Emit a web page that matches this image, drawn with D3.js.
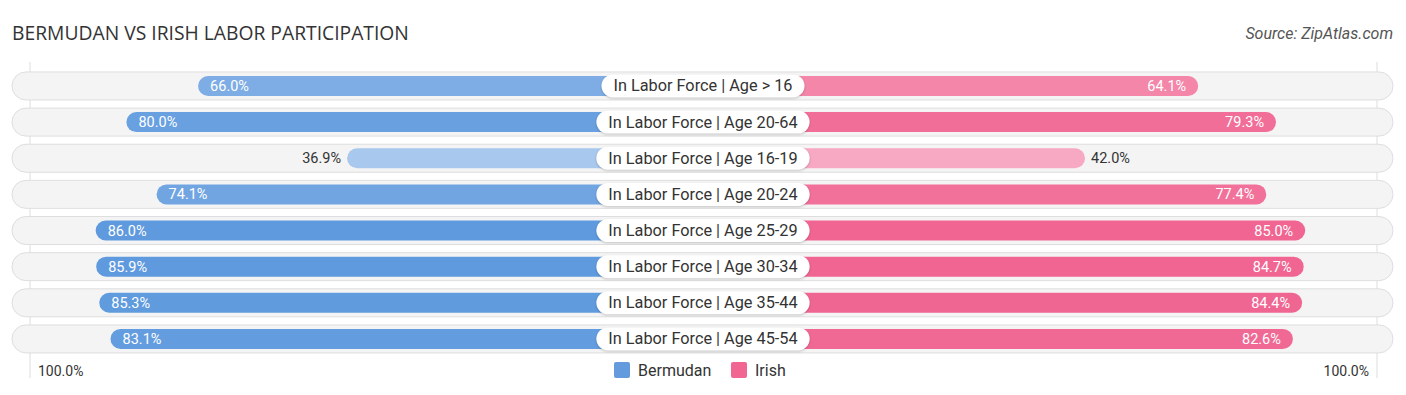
<!DOCTYPE html>
<html>
<head>
<meta charset="utf-8">
<script src="https://cdn.jsdelivr.net/npm/d3@7"></script>
<style>
  body { margin: 0; background: #fff; font-family: Roboto, "Noto Sans", sans-serif; }
  #chart { width: 1406px; height: 395px; }
</style>
</head>
<body>
<div id="chart"></div>
<script>
// data
const categories = [
  "In Labor Force | Age > 16",
  "In Labor Force | Age 20-64",
  "In Labor Force | Age 16-19",
  "In Labor Force | Age 20-24",
  "In Labor Force | Age 25-29",
  "In Labor Force | Age 30-34",
  "In Labor Force | Age 35-44",
  "In Labor Force | Age 45-54"
];
const bermudan = [66.0, 80.0, 36.9, 74.1, 86.0, 85.9, 85.3, 83.1];
const irish = [64.1, 79.3, 42.0, 77.4, 85.0, 84.7, 84.4, 82.6];
const seriesNames = ["Bermudan", "Irish"];
const axisLabels = ["100.0%", "100.0%"];

function drawChart() {
  const W = 1406, H = 395;
  const cx = 703;
  const svg = d3.select("#chart").append("svg")
    .attr("width", W).attr("height", H);

  // title + source
  svg.append("text")
    .attr("x", 12).attr("y", 40)
    .style("font-family", "'Open Sans', sans-serif")
    .style("font-size", "19.3px")
    .style("fill", "#333")
    .text("BERMUDAN VS IRISH LABOR PARTICIPATION");
  svg.append("text")
    .attr("x", 1393).attr("y", 39)
    .attr("text-anchor", "end")
    .style("font-size", "16px")
    .style("font-style", "italic")
    .style("fill", "#555")
    .text("Source: ZipAtlas.com");

  // row positions
  const y = d3.scaleBand()
    .domain(categories)
    .range([71.5, 353.4])
    .paddingInner(0.2);
  const rowH = 28, barH = 20;

  // bar length scale (offset for centre label)
  const len = d3.scaleLinear().domain([0, 100]).range([167, 679]);

  const blueCol = d3.scaleLinear().domain([30, 86]).range(["#b3cfef", "#5f9ade"]).clamp(true);
  const pinkCol = d3.scaleLinear().domain([30, 85]).range(["#f9bbcf", "#f06592"]).clamp(true);

  // gridlines at 100%
  [cx - 673, cx + 674].forEach(gx => {
    svg.append("line")
      .attr("x1", gx).attr("x2", gx)
      .attr("y1", 62).attr("y2", 378)
      .style("stroke", "#ddd").style("stroke-width", 1);
  });

  const rows = svg.selectAll(".row")
    .data(categories)
    .enter().append("g")
    .attr("class", "row")
    .attr("transform", d => `translate(0,${y(d) + y.bandwidth() / 2})`);

  // row background pills
  rows.append("rect")
    .attr("x", 12).attr("y", -rowH / 2)
    .attr("width", 1381).attr("height", rowH)
    .attr("rx", rowH / 2)
    .style("fill", "#f4f4f4")
    .style("stroke", "#dedede")
    .style("stroke-width", 1);

  // Bermudan bars (left)
  rows.append("rect")
    .attr("x", (d, i) => cx - len(bermudan[i]))
    .attr("y", -barH / 2)
    .attr("width", (d, i) => len(bermudan[i]))
    .attr("height", barH)
    .attr("rx", barH / 2)
    .style("fill", (d, i) => blueCol(bermudan[i]));

  // Irish bars (right)
  rows.append("rect")
    .attr("x", cx)
    .attr("y", -barH / 2)
    .attr("width", (d, i) => len(irish[i]))
    .attr("height", barH)
    .attr("rx", barH / 2)
    .style("fill", (d, i) => pinkCol(irish[i]));

  // value labels
  rows.append("text")
    .attr("x", (d, i) => bermudan[i] > 50 ? cx - len(bermudan[i]) + 12 : cx - len(bermudan[i]) - 6)
    .attr("y", 5)
    .attr("text-anchor", (d, i) => bermudan[i] > 50 ? "start" : "end")
    .style("font-size", "14.5px")
    .style("fill", (d, i) => bermudan[i] > 50 ? "#fff" : "#333")
    .text((d, i) => bermudan[i].toFixed(1) + "%");
  rows.append("text")
    .attr("x", (d, i) => irish[i] > 50 ? cx + len(irish[i]) - 12 : cx + len(irish[i]) + 6)
    .attr("y", 5)
    .attr("text-anchor", (d, i) => irish[i] > 50 ? "end" : "start")
    .style("font-size", "14.5px")
    .style("fill", (d, i) => irish[i] > 50 ? "#fff" : "#333")
    .text((d, i) => irish[i].toFixed(1) + "%");

  // centre category labels
  rows.each(function(d) {
    const g = d3.select(this);
    const t = g.append("text")
      .attr("x", cx).attr("y", 5.5)
      .attr("text-anchor", "middle")
      .style("font-size", "16.3px")
      .style("fill", "#333")
      .text(d);
    const w = t.node().getComputedTextLength() + 24;
    g.insert("rect", "text")
      .attr("x", cx - w / 2).attr("y", -11.5)
      .attr("width", w).attr("height", 23)
      .attr("rx", 11.5)
      .style("fill", "#fff")
      .style("filter", "drop-shadow(0px 1px 1px rgba(0,0,0,0.2))");
    t.raise();
  });

  // axis labels
  svg.append("text")
    .attr("x", 38).attr("y", 376)
    .style("font-size", "14px").style("fill", "#333")
    .text(axisLabels[0]);
  svg.append("text")
    .attr("x", 1369).attr("y", 376)
    .attr("text-anchor", "end")
    .style("font-size", "14px").style("fill", "#333")
    .text(axisLabels[1]);

  // legend
  const legendX = [614, 731];
  const legendCol = ["#639bdc", "#f06592"];
  seriesNames.forEach((name, i) => {
    svg.append("rect")
      .attr("x", legendX[i]).attr("y", 362)
      .attr("width", 16).attr("height", 16)
      .attr("rx", 2)
      .style("fill", legendCol[i]);
    svg.append("text")
      .attr("x", legendX[i] + 24).attr("y", 376)
      .style("font-size", "16px").style("fill", "#333")
      .text(name);
  });
}

drawChart();
</script>
</body>
</html>
